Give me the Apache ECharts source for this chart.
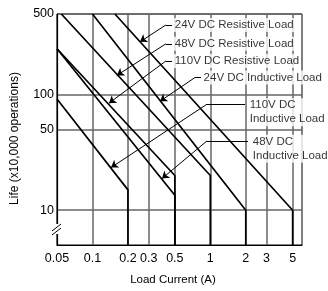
<!DOCTYPE html>
<html>
<head>
<meta charset="utf-8">
<script src="https://cdn.jsdelivr.net/npm/echarts@6/dist/echarts.min.js"></script>
<style>
  html, body { margin: 0; padding: 0; background: #fff; }
  #chart { width: 328px; height: 291px; }
</style>
</head>
<body>
<div id="chart"></div>
<script>
// tick values
var xTicks = [0.05, 0.1, 0.2, 0.3, 0.5, 1, 2, 3, 5];
var yTicks = [10, 50, 100, 500];

// life curves: [current (A), life (x10,000)]
var res24 = [[0.155, 500], [5, 10], [5, 5]];
var res48 = [[0.0544, 500], [1, 20], [1, 5]];
var res110 = [[0.05, 250], [0.5, 20], [0.5, 5]];
var ind24 = [[0.1, 500], [2, 10], [2, 5]];
var ind110 = [[0.05, 92], [0.2, 15], [0.2, 5]];
var ind48 = [[0.05, 250], [0.5, 13.5], [0.5, 5]];

// callouts
var labelText = ['24V DC Resistive Load', '48V DC Resistive Load', '110V DC Resistive Load',
                 '24V DC Inductive Load', '110V DC\nInductive Load', '48V DC\nInductive Load'];
var labelAt = [[0.49, 402], [0.49, 276], [0.49, 196], [0.86, 141], [2.12, 70.6], [2.25, 34]];
var dashFrom = [[0.473, 402], [0.473, 276], [0.473, 196], [0.834, 141], [1.97, 82.8], [2.09, 39.8]];
var dashTo = [[0.42, 402], [0.42, 276], [0.42, 196], [0.742, 141], [0.937, 82.8], [0.937, 39.8]];
var arrowTip = [[0.253, 287], [0.161, 147], [0.138, 84.5], [0.374, 87.8], [0.1436, 23.4], [0.389, 18.8]];

var font = 'Liberation Sans, Arial, sans-serif';

function curve(name, data) {
    return {
        name: name,
        type: 'line',
        data: data,
        symbol: 'none',
        silent: true,
        lineStyle: { color: '#000', width: 1.7 },
        z: 5
    };
}

var dashData = [], arrowData = [], labelData = [];
for (var i = 0; i < labelText.length; i++) {
    dashData.push({ coords: [dashFrom[i], dashTo[i]] });
    arrowData.push({ coords: [dashTo[i], arrowTip[i]] });
    labelData.push({ value: labelAt[i], name: labelText[i] });
}

var option = {
    animation: false,
    backgroundColor: '#fff',
    grid: {
        left: 57, top: 14, right: 26, bottom: 44,
        show: true, borderColor: '#000', borderWidth: 1
    },
    xAxis: {
        type: 'log',
        logBase: 10,
        min: 0.05,
        max: 6,
        name: 'Load Current (A)',
        nameLocation: 'middle',
        nameGap: 29,
        nameTextStyle: { fontFamily: font, fontSize: 11.5, color: '#000', padding: [0, 13, 0, 0] },
        axisLine: { show: true, lineStyle: { color: '#000', width: 1.2 } },
        axisTick: { show: false, customValues: xTicks },
        axisLabel: { customValues: xTicks, margin: 7, fontFamily: font, fontSize: 12.5, color: '#000',
                     formatter: function (v) { return String(v); } },
        splitLine: { show: true, lineStyle: { color: '#666', width: 1.5 } }
    },
    yAxis: {
        type: 'log',
        logBase: 10,
        min: 5,
        max: 500,
        name: 'Life (x10,000 operations)',
        nameLocation: 'middle',
        nameGap: 36,
        nameRotate: 90,
        nameTextStyle: { fontFamily: font, fontSize: 12, color: '#000', padding: [0, 18, 0, 0] },
        axisLine: { show: true, lineStyle: { color: '#000', width: 1.2 } },
        axisTick: { show: false, customValues: yTicks },
        axisLabel: { customValues: yTicks, margin: 3, fontFamily: font, fontSize: 12.5, color: '#000',
                     formatter: function (v) { return String(v); } },
        splitLine: { show: true, lineStyle: { color: '#666', width: 1.5 } }
    },
    series: [
        curve('24V DC Resistive Load', res24),
        curve('48V DC Resistive Load', res48),
        curve('110V DC Resistive Load', res110),
        curve('24V DC Inductive Load', ind24),
        curve('110V DC Inductive Load', ind110),
        curve('48V DC Inductive Load', ind48),
        {
            type: 'lines',
            coordinateSystem: 'cartesian2d',
            data: dashData,
            symbol: 'none',
            silent: true,
            lineStyle: { color: '#000', width: 1, opacity: 1 },
            z: 6
        },
        {
            type: 'lines',
            coordinateSystem: 'cartesian2d',
            data: arrowData,
            symbol: ['none', 'arrow'],
            symbolSize: 7,
            silent: true,
            lineStyle: { color: '#000', width: 1, opacity: 1 },
            z: 6
        },
        {
            type: 'scatter',
            data: labelData,
            symbolSize: 0,
            silent: true,
            z: 7,
            label: {
                show: true,
                position: 'right',
                distance: 0,
                formatter: '{b}',
                fontFamily: font,
                fontSize: 11.5,
                lineHeight: 14,
                color: '#000',
                backgroundColor: '#fff',
                padding: [0, 1, 0, 1]
            }
        }
    ],
    graphic: [
        // axis break mark
        { type: 'rect', shape: { x: 55, y: 224, width: 5, height: 10 }, style: { fill: '#fff' }, z: 100 },
        { type: 'line', shape: { x1: 52, y1: 231, x2: 61, y2: 224 }, style: { stroke: '#000', lineWidth: 1 }, z: 101 },
        { type: 'line', shape: { x1: 52, y1: 235, x2: 61, y2: 228 }, style: { stroke: '#000', lineWidth: 1 }, z: 101 }
    ]
};

var chart = echarts.init(document.getElementById('chart'));
chart.setOption(option);
</script>
</body>
</html>
